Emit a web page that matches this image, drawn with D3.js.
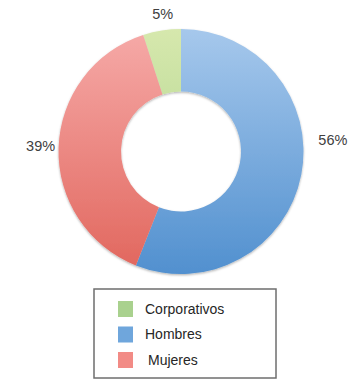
<!DOCTYPE html>
<head>
  <meta charset="utf-8">
  <script src="https://d3js.org/d3.v7.min.js"></script>
  <style>
    body { margin: 0; background: #fff; }
    text { font-family: "Liberation Sans", Arial, sans-serif; }
  </style>
</head>
<body>
<div id="chart"></div>
<script>
  // data
  var categories = ["Corporativos", "Hombres", "Mujeres"];
  var values = [5, 56, 39];
  var labels = ["5%", "56%", "39%"];

  var width = 355, height = 386;
  var cx = 181, cy = 151.5, outerR = 122.5, innerR = 60;

  var colorsTop = ["#d6e8ad", "#a6c8ec", "#f6aaa8"];
  var colorsBottom = ["#a5cf85", "#5190cf", "#e1665d"];
  var legendColors = ["#a9d18e", "#6fa6dc", "#f28b86"];

  var svg = d3.select("#chart").append("svg")
    .attr("width", width)
    .attr("height", height);

  var defs = svg.append("defs");
  categories.forEach(function(c, i) {
    var g = defs.append("linearGradient")
      .attr("id", "grad" + i)
      .attr("gradientUnits", "userSpaceOnUse")
      .attr("x1", 0).attr("x2", 0)
      .attr("y1", -outerR).attr("y2", outerR);
    g.append("stop").attr("offset", "0%").attr("stop-color", colorsTop[i]);
    g.append("stop").attr("offset", "100%").attr("stop-color", colorsBottom[i]);
  });

  var shadow = defs.append("filter").attr("id", "shadow")
    .attr("x", "-10%").attr("y", "-10%").attr("width", "120%").attr("height", "120%");
  shadow.append("feDropShadow")
    .attr("dx", 0).attr("dy", 1.2).attr("stdDeviation", 0.8)
    .attr("flood-color", "#000").attr("flood-opacity", 0.3);

  // Corporativos sits just left of 12 o'clock, Hombres goes clockwise from 12
  var total = d3.sum(values);
  var startAngle = -2 * Math.PI * values[0] / total;
  var pie = d3.pie().sort(null)
    .startAngle(startAngle)
    .endAngle(startAngle + 2 * Math.PI);

  var arc = d3.arc().innerRadius(innerR).outerRadius(outerR);
  var arcs = pie(values);

  var g = svg.append("g").attr("transform", "translate(" + cx + "," + cy + ")");
  g.append("g").attr("filter", "url(#shadow)")
    .selectAll("path")
    .data(arcs)
    .enter()
    .append("path")
    .attr("d", arc)
    .attr("fill", function(d, i) { return "url(#grad" + i + ")"; });

  // outside labels (Excel-like placement: arc position plus a small shift)
  var labelArc = d3.arc().innerRadius(outerR + 26).outerRadius(outerR + 26);
  var nudge = [[5, 9], [6, -39], [8, -1]];
  g.selectAll("text.lbl")
    .data(arcs)
    .enter()
    .append("text")
    .attr("class", "lbl")
    .attr("x", function(d, i) { return labelArc.centroid(d)[0] + nudge[i][0]; })
    .attr("y", function(d, i) { return labelArc.centroid(d)[1] + nudge[i][1]; })
    .attr("text-anchor", "middle")
    .attr("dy", "0.35em")
    .attr("font-size", 14.5)
    .attr("fill", "#404040")
    .text(function(d, i) { return labels[i]; });

  // legend
  var lx = 94, ly = 289, lw = 182, lh = 89;
  svg.append("rect")
    .attr("x", lx).attr("y", ly)
    .attr("width", lw).attr("height", lh)
    .attr("fill", "#fff")
    .attr("stroke", "#6e6e6e")
    .attr("stroke-width", 1.5);

  var rowY = d3.scalePoint().domain(categories).range([ly + 20, ly + 71]);
  var items = svg.append("g").selectAll("g")
    .data(categories)
    .enter()
    .append("g")
    .attr("transform", function(d) { return "translate(" + (lx + 24) + "," + rowY(d) + ")"; });
  items.append("rect")
    .attr("x", 0).attr("y", -8)
    .attr("width", 15).attr("height", 16)
    .attr("fill", function(d, i) { return legendColors[i]; });
  items.append("text")
    .attr("x", function(d, i) { return i === 2 ? 30 : 27; })
    .attr("y", 0)
    .attr("dy", "0.35em")
    .attr("font-size", 14)
    .attr("fill", "#262626")
    .text(function(d) { return d; });
</script>
</body>
</html>
